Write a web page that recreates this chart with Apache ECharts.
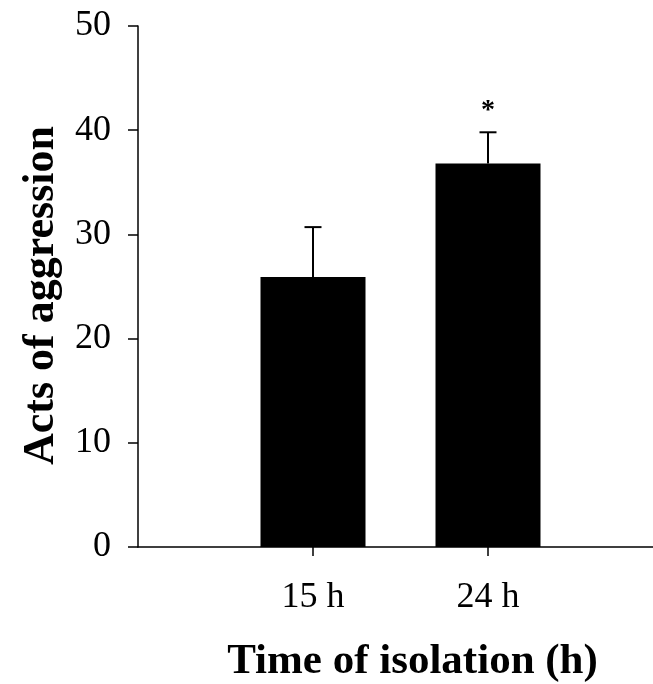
<!DOCTYPE html>
<html>
<head>
<meta charset="utf-8">
<script src="https://cdn.jsdelivr.net/npm/echarts@6/dist/echarts.min.js"></script>
<style>
  html, body { margin: 0; padding: 0; background: #fff; }
  #main { width: 653px; height: 684px; }
</style>
</head>
<body>
<div id="main"></div>
<script>
var chartDom = document.getElementById('main');
var myChart = echarts.init(chartDom);
var option;

// empty slots at both ends keep the bars spaced like the original
let categories = ['', '15 h', '24 h', ''];
let means = ['-', 25.9, 36.8, '-'];
let errors = [0, 4.8, 3.0, 0];
let marks = ['', '', '*', ''];

let serif = '"Liberation Serif", "Times New Roman", serif';

let errData = [];
for (var i = 0; i < categories.length; i++) {
  if (means[i] === '-') continue;
  errData.push([i, means[i], means[i] + errors[i], marks[i]]);
}

option = {
  animation: false,
  backgroundColor: '#fff',
  grid: {
    left: 138,
    top: 26,
    width: 525,
    height: 521,
    outerBoundsMode: 'none'
  },
  xAxis: {
    type: 'category',
    data: categories,
    boundaryGap: false,
    name: 'Time of isolation (h)',
    nameLocation: 'middle',
    nameGap: 93,
    nameTextStyle: {
      fontFamily: serif, fontWeight: 'bold', fontSize: 43, color: '#000',
      padding: [0, 0, 0, 24]
    },
    axisLine: { lineStyle: { color: '#000', width: 1.5 } },
    axisTick: {
      length: 9,
      lineStyle: { color: '#000', width: 1.5 },
      interval: function (idx, val) { return val !== ''; }
    },
    axisLabel: {
      margin: 33,
      interval: 0,
      fontFamily: serif,
      fontSize: 36,
      color: '#000'
    }
  },
  yAxis: {
    type: 'value',
    min: 0,
    max: 50,
    interval: 10,
    name: 'Acts of aggression',
    nameLocation: 'middle',
    nameGap: 70,
    nameTextStyle: {
      fontFamily: serif, fontWeight: 'bold', fontSize: 44, color: '#000',
      padding: [0, 18, 0, 0]
    },
    axisLine: { show: true, lineStyle: { color: '#000', width: 1.5 } },
    axisTick: { show: true, length: 10, lineStyle: { color: '#000', width: 1.5 } },
    splitLine: { show: false },
    axisLabel: {
      margin: 27,
      fontFamily: serif,
      fontSize: 36,
      color: '#000'
    }
  },
  series: [
    {
      type: 'bar',
      data: means,
      barWidth: 105,
      itemStyle: { color: '#000' }
    },
    {
      type: 'custom',
      data: errData,
      z: 5,
      renderItem: function (params, api) {
        let base = api.coord([api.value(0), api.value(1)]);
        let top = api.coord([api.value(0), api.value(2)]);
        let mark = errData[params.dataIndex][3];
        let children = [
          {
            type: 'line',
            shape: { x1: base[0], y1: base[1], x2: top[0], y2: top[1] },
            style: { stroke: '#000', lineWidth: 2 }
          },
          {
            type: 'line',
            shape: { x1: top[0] - 8.5, y1: top[1], x2: top[0] + 8.5, y2: top[1] },
            style: { stroke: '#000', lineWidth: 2 }
          }
        ];
        if (mark) {
          children.push({
            type: 'text',
            style: {
              text: mark,
              x: top[0],
              y: top[1] - 8,
              align: 'center',
              verticalAlign: 'bottom',
              font: 'bold 28px ' + serif,
              fill: '#000'
            }
          });
        }
        return { type: 'group', children: children };
      }
    }
  ]
};

option && myChart.setOption(option);
</script>
</body>
</html>
